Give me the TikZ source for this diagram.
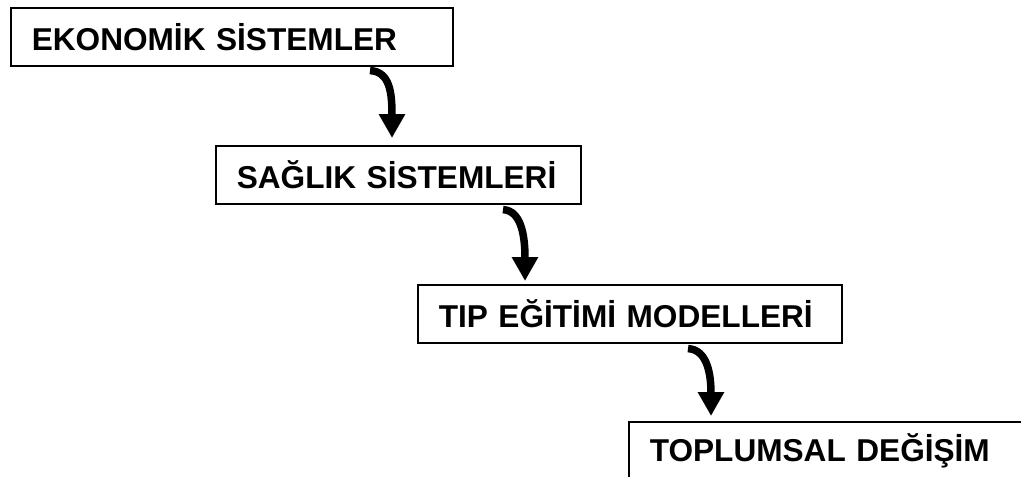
\documentclass[tikz,border=0pt]{standalone}
\usepackage{fontspec}
\setmainfont{Liberation Sans}
\usetikzlibrary{arrows.meta}

\tikzset{
  kutu/.style={draw, line width=1.6pt, anchor=north west, inner xsep=21pt, inner ysep=0pt,
    minimum height=58pt, align=left, font=\bfseries\fontsize{31.6}{38}\selectfont},
  ok/.style={line width=7.5pt, -{Triangle[width=25pt,length=24pt]}}
}

\begin{document}
\begin{tikzpicture}[x=1pt, y=1pt]
				\useasboundingbox (0,0) rectangle (1021,-477);

				% Boxes
				\node[kutu, text width=400pt] (eko) at (10,-7) {EKONOM\.IK S\.ISTEMLER};
				\node[kutu, text width=323pt] (saglik) at (215,-145) {SA\u{G}LIK S\.ISTEMLER\.I};
				\node[kutu, text width=382pt] (tip) at (417,-284) {TIP E\u{G}\.IT\.IM\.I MODELLER\.I};
				\node[kutu, text width=362pt] (toplum) at (628,-421) {TOPLUMSAL DE\u{G}\.I\c{S}\.IM};

				% Arrows
				\draw[ok] ([xshift=360pt,yshift=-4pt]eko.south west) .. controls +(20,-1) and +(0,45) .. ([xshift=177pt,yshift=7pt]saglik.north west);
				\draw[ok] ([xshift=288pt,yshift=-5pt]saglik.south west) .. controls +(20,-1) and +(0,40) .. ([xshift=108pt,yshift=3pt]tip.north west);
				\draw[ok] ([xshift=271pt,yshift=-5pt]tip.south west) .. controls +(20,-1) and +(0,40) .. ([xshift=83pt,yshift=5pt]toplum.north west);
\end{tikzpicture}
\end{document}
